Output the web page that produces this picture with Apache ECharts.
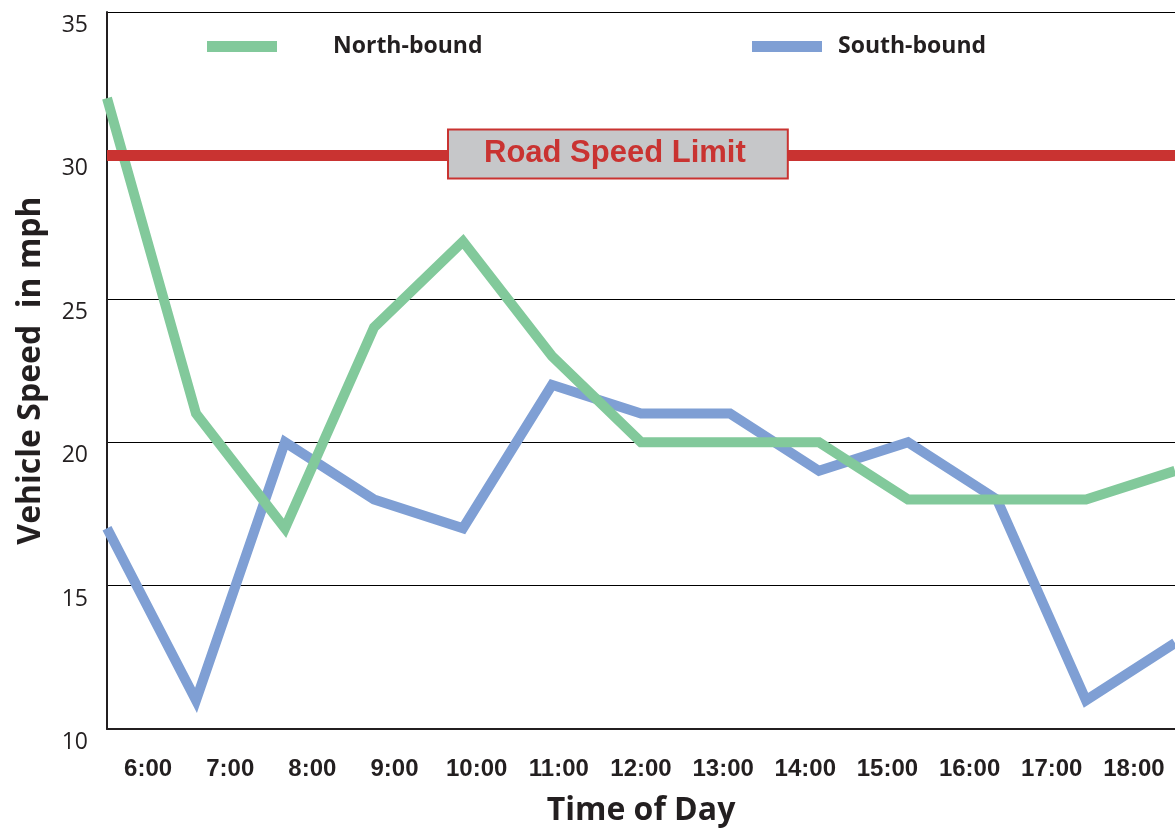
<!DOCTYPE html>
<html>
<head>
<meta charset="utf-8">
<script src="https://cdn.jsdelivr.net/npm/echarts@6/dist/echarts.min.js"></script>
<style>
html,body{margin:0;padding:0;background:#fff;}
#chart{width:1175px;height:829px;}
</style>
</head>
<body>
<div id="chart"></div>
<script>
const hours = ['6:00','7:00','8:00','9:00','10:00','11:00','12:00','13:00','14:00','15:00','16:00','17:00','18:00'];
const northBound = [32, 21, 17, 24, 27, 23, 20, 20, 20, 18, 18, 18, 19];
const southBound = [17, 11, 20, 18, 17, 22, 21, 21, 19, 20, 18, 11, 13];
const speedLimit = 30;
const speedLimitLabel = 'Road Speed Limit';

const TXT = '#231f20';
const chart = echarts.init(document.getElementById('chart'));
chart.setOption({
  animation: false,
  backgroundColor: '#fff',
  grid: {left: 107, right: 0, top: 12, bottom: 100, containLabel: false, outerBoundsMode: 'none'},
  legend: [
    {data: ['North-bound'], left: 207, top: 35, padding: 0, icon: 'rect', itemWidth: 70, itemHeight: 11,
     textStyle: {fontFamily: 'Open Sans', fontWeight: 'bold', fontSize: 23, color: TXT, padding: [0,0,0,51]}},
    {data: ['South-bound'], left: 752, top: 35, padding: 0, icon: 'rect', itemWidth: 70, itemHeight: 11,
     textStyle: {fontFamily: 'Open Sans', fontWeight: 'bold', fontSize: 23, color: TXT, padding: [0,0,0,11]}}
  ],
  xAxis: [
    {type: 'category', data: hours, boundaryGap: true, position: 'bottom',
     name: 'Time of Day', nameLocation: 'middle', nameGap: 66,
     nameTextStyle: {fontFamily: 'Open Sans', fontWeight: 'bold', fontSize: 32, color: TXT},
     axisLine: {lineStyle: {color: TXT, width: 2}},
     axisTick: {inside: true, length: 16, lineStyle: {color: TXT, width: 2}},
     axisLabel: {interval: 0, hideOverlap: false, fontFamily: 'Liberation Sans', fontWeight: 'bold', fontSize: 24, color: TXT, margin: 28},
     splitLine: {show: false}},
    {type: 'category', data: hours, boundaryGap: false, show: false}
  ],
  yAxis: {
    type: 'value', min: 10, max: 35, interval: 5,
    name: 'Vehicle Speed  in mph', nameLocation: 'middle', nameGap: 60,
    nameTextStyle: {fontFamily: 'Open Sans', fontWeight: 'bold', fontSize: 32, color: TXT},
    axisLine: {show: true, lineStyle: {color: TXT, width: 2}},
    axisTick: {show: false},
    axisLabel: {fontFamily: 'Open Sans', fontSize: 23, color: TXT, margin: 19, verticalAlign: 'top', padding: [2,0,0,0]},
    splitLine: {show: true, lineStyle: {color: '#000', width: 1}}
  },
  series: [
    {name: 'limit', type: 'line', xAxisIndex: 1, data: [], z: 1,
     markLine: {silent: true, symbol: 'none', label: {show: false},
       lineStyle: {color: '#c93331', width: 11, type: 'solid'},
       data: [{yAxis: speedLimit}]}},
    {name: 'North-bound', type: 'line', xAxisIndex: 1, data: northBound, color: '#82c99b',
     showSymbol: false, clip: false, z: 3,
     lineStyle: {width: 10, color: '#82c99b', join: 'miter', miterLimit: 10, cap: 'butt'}},
    {name: 'South-bound', type: 'line', xAxisIndex: 1, data: southBound, color: '#7f9fd4',
     showSymbol: false, clip: false, z: 2,
     lineStyle: {width: 10, color: '#7f9fd4', join: 'miter', miterLimit: 10, cap: 'butt'}}
  ]
});
const yLim = chart.convertToPixel({yAxisIndex: 0}, speedLimit);
chart.setOption({
  graphic: [{
    type: 'text', left: 447, top: yLim - 27, z: 100,
    style: {text: speedLimitLabel, font: 'bold 31px "Liberation Sans"', fill: '#c93331',
      backgroundColor: '#c6c7c9', borderColor: '#c93331', borderWidth: 2,
      padding: [8, 41, 8, 35], lineHeight: 31}
  }]
});
</script>
</body>
</html>
